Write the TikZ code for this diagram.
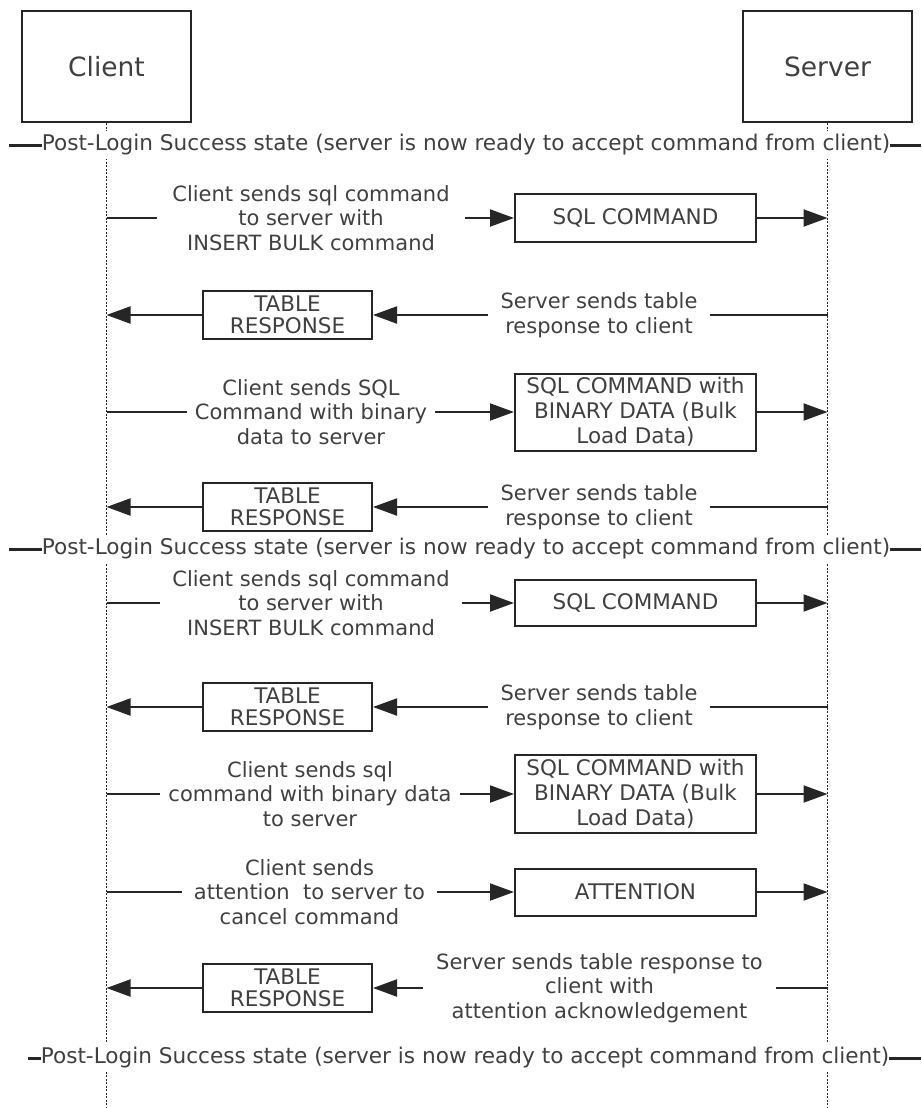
\documentclass[tikz,border=0pt]{standalone}
\usepackage{fontspec}
\setmainfont{DejaVu Sans}
\usetikzlibrary{arrows.meta}

\begin{document}
\begin{tikzpicture}[x=1pt,y=-1pt]
\tikzset{
  actor/.style={draw=black!85,line width=2pt,minimum width=169pt,minimum height=111pt,inner sep=0pt,font=\fontsize{26.5}{32}\selectfont,text=black!75},
  msgbox/.style={draw=black!85,line width=2pt,minimum width=241pt,inner sep=0pt,align=center,font=\fontsize{21.5}{25}\selectfont,text=black!75},
  tablebox/.style={draw=black!85,line width=2pt,minimum width=169pt,minimum height=48pt,inner sep=0pt,align=center,font=\fontsize{21.5}{22.5}\selectfont,text=black!75},
  etiq/.style={inner sep=0pt,align=center,font=\fontsize{21}{24.5}\selectfont,text=black!75},
  estado/.style={fill=white,inner xsep=0pt,inner ysep=4pt,font=\fontsize{21.6}{24}\selectfont,text=black!75},
  vida/.style={draw=black!85,line width=1.5pt,dash pattern=on 2pt off 1.5pt},
  msg/.style={draw=black!85,line width=2pt},
  flecha/.style={msg,-{Triangle[length=24pt,width=17pt]}},
  raya/.style={draw=black!85,line width=3pt}
}
\useasboundingbox (0,0) rectangle (921,1108);

% Actores
\node (client) at (106.5,66.5) [actor] {Client};
\node (server) at (827.5,66.5) [actor] {Server};
\coordinate (cfin) at (106.5,1108);
\coordinate (sfin) at (827.5,1108);
\path
(client) edge [vida] (cfin)
(server) edge [vida] (sfin);

% Estados Post-Login
\node (p1) at (466,145) [estado] {Post-Login Success state (server is now ready to accept command from client)};
\node (p2) at (466,549) [estado] {Post-Login Success state (server is now ready to accept command from client)};
\node (p3) at (465,1058) [estado] {Post-Login Success state (server is now ready to accept command from client)};
\coordinate (p1l) at (9,145);
\coordinate (p1r) at (921,145);
\coordinate (p2l) at (9,549);
\coordinate (p2r) at (921,549);
\coordinate (p3l) at (28,1058);
\coordinate (p3r) at (921,1058);
\path
(p1l) edge [raya] (p1.west)
(p1.east) edge [raya] (p1r)
(p2l) edge [raya] (p2.west)
(p2.east) edge [raya] (p2r)
(p3l) edge [raya] (p3.west)
(p3.east) edge [raya] (p3r);

% Puntos sobre las lineas de vida
\foreach \n/\y in {1/218,2/315,3/412,4/507,5/603,6/707,7/794,8/892,9/988}{
  \coordinate (c\n) at (106.5,\y);
  \coordinate (s\n) at (827.5,\y);
}

% Mensajes cliente -> servidor
\node (e1) at (311,218) [etiq,minimum width=308pt] {Client sends sql command\\to server with\\INSERT BULK command};
\node (b1) at (635.5,218) [msgbox,minimum height=48pt] {SQL COMMAND};
\node (e3) at (311,412) [etiq,minimum width=248pt] {Client sends SQL\\Command with binary\\data to server};
\node (b3) at (635.5,412) [msgbox,minimum height=77pt] {SQL COMMAND with\\BINARY DATA (Bulk\\Load Data)};
\node (e5) at (311,603) [etiq,minimum width=302pt] {Client sends sql command\\to server with\\INSERT BULK command};
\node (b5) at (635.5,603) [msgbox,minimum height=46pt] {SQL COMMAND};
\node (e7) at (310,794) [etiq,minimum width=300pt] {Client sends sql\\command with binary data\\to server};
\node (b7) at (635.5,794) [msgbox,minimum height=78pt] {SQL COMMAND with\\BINARY DATA (Bulk\\Load Data)};
\node (e8) at (309.5,892) [etiq,minimum width=255pt] {Client sends\\attention\ \ to server to\\cancel command};
\node (b8) at (635.5,892) [msgbox,minimum height=47pt] {ATTENTION};

% Mensajes servidor -> cliente
\node (e2) at (599,315) [etiq,minimum width=222pt] {Server sends table\\response to client};
\node (t2) at (287.5,315) [tablebox] {TABLE\\RESPONSE};
\node (e4) at (599,507) [etiq,minimum width=222pt] {Server sends table\\response to client};
\node (t4) at (287.5,507) [tablebox] {TABLE\\RESPONSE};
\node (e6) at (599,707) [etiq,minimum width=222pt] {Server sends table\\response to client};
\node (t6) at (287.5,707) [tablebox] {TABLE\\RESPONSE};
\node (e9) at (599.5,988) [etiq,minimum width=353pt] {Server sends table response to\\client with\\attention acknowledgement};
\node (t9) at (287.5,988) [tablebox] {TABLE\\RESPONSE};

\foreach \n in {1,3,5,7,8}{
  \draw[msg] (c\n) -- (e\n.west);
  \draw[flecha] (e\n.east) -- (b\n.west);
  \draw[flecha] (b\n.east) -- (s\n);
}
\foreach \n in {2,4,6,9}{
  \draw[msg] (s\n) -- (e\n.east);
  \draw[flecha] (e\n.west) -- (t\n.east);
  \draw[flecha] (t\n.west) -- (c\n);
}

\end{tikzpicture}
\end{document}
